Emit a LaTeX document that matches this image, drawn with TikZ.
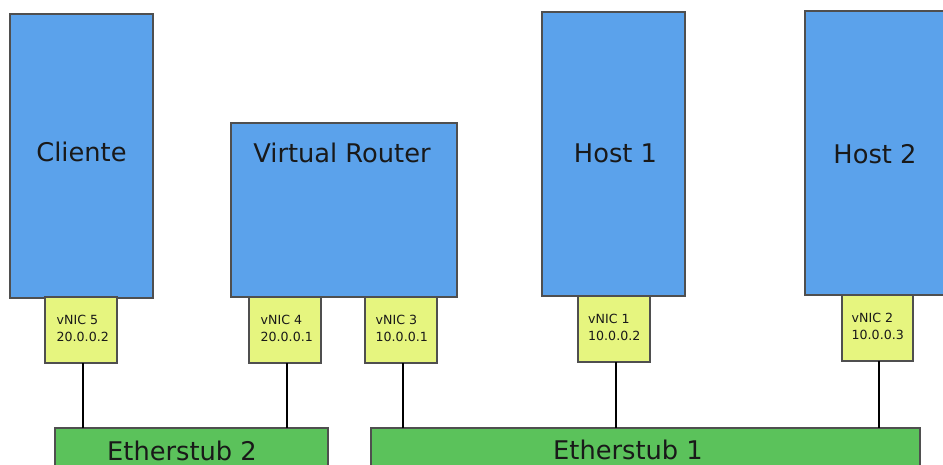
\documentclass[tikz,border=0pt]{standalone}
\usepackage{fontspec}
\setmainfont{DejaVu Sans}
\definecolor{boxblue}{HTML}{5BA2EB}
\definecolor{nicyellow}{HTML}{E6F57F}
\definecolor{stubgreen}{HTML}{5BC25B}
\definecolor{edgegray}{HTML}{4F4F4F}
\tikzset{
  hostbox/.style={draw=edgegray, fill=boxblue, line width=1.5pt, anchor=north west, inner sep=0pt, outer sep=0pt},
  nicbox/.style={draw=edgegray, fill=nicyellow, line width=1.5pt, anchor=north west, inner sep=0pt, outer sep=0pt, minimum width=72pt, minimum height=66pt},
  stubbox/.style={draw=edgegray, fill=stubgreen, line width=1.5pt, anchor=north west, inner sep=0pt, outer sep=0pt},
  biglabel/.style={anchor=base, inner sep=0pt, font=\fontsize{25.7}{30}\selectfont, text=black!90},
  niclabel/.style={anchor=north west, inner sep=0pt, align=left, font=\fontsize{12.6}{16.5}\selectfont, text=black!90},
  wire/.style={draw=black, line width=1.6pt}
}
\begin{document}
\begin{tikzpicture}[x=1pt,y=-1pt]
\useasboundingbox (0,0) rectangle (943,465);
\clip (0,0) rectangle (943,465);
% host boxes
\node[hostbox, minimum width=143pt, minimum height=284pt] (cli) at (10,14) {};
\node[hostbox, minimum width=226pt, minimum height=174pt] (vr) at (231,123) {};
\node[hostbox, minimum width=143pt, minimum height=284pt] (h1) at (542,12) {};
\node[hostbox, minimum width=150pt, minimum height=284pt] (h2) at (805,11) {};
\node[biglabel] (tcli) at (81.5,162) {Cliente};
\node[biglabel] (tvr) at (342,163) {Virtual Router};
\node[biglabel] (th1) at (615.5,163) {Host 1};
\node[biglabel] (th2) at (875,164) {Host 2};
% etherstubs
\node[stubbox, minimum width=273pt, minimum height=60pt] (es2) at (55,428) {};
\node[stubbox, minimum width=549pt, minimum height=60pt] (es1) at (371,428) {};
\node[biglabel] (tes2) at (182,460.5) {Etherstub 2};
\node[biglabel] (tes1) at (628,459.5) {Etherstub 1};
% vNICs
\node[nicbox] (v5) at (45,297) {};
\node[nicbox] (v4) at (249,297) {};
\node[nicbox] (v3) at (365,297) {};
\node[nicbox] (v1) at (578,296) {};
\node[nicbox, minimum width=71pt] (v2) at (842,295) {};
\node[niclabel] (tv5) at (56.5,315) {vNIC 5\\20.0.0.2};
\node[niclabel] (tv4) at (260.5,315) {vNIC 4\\20.0.0.1};
\node[niclabel] (tv3) at (375.5,315) {vNIC 3\\10.0.0.1};
\node[niclabel] (tv1) at (588,314) {vNIC 1\\10.0.0.2};
\node[niclabel] (tv2) at (851.5,313) {vNIC 2\\10.0.0.3};
% wires
\draw[wire] ([xshift=2pt]v5.south) -- ([xshift=2pt]v5.south |- es2.north);
\draw[wire] ([xshift=2pt]v4.south) -- ([xshift=2pt]v4.south |- es2.north);
\draw[wire] ([xshift=2pt]v3.south) -- ([xshift=2pt]v3.south |- es1.north);
\draw[wire] ([xshift=2pt]v1.south) -- ([xshift=2pt]v1.south |- es1.north);
\draw[wire] ([xshift=1.5pt]v2.south) -- ([xshift=1.5pt]v2.south |- es1.north);
\end{tikzpicture}
\end{document}
